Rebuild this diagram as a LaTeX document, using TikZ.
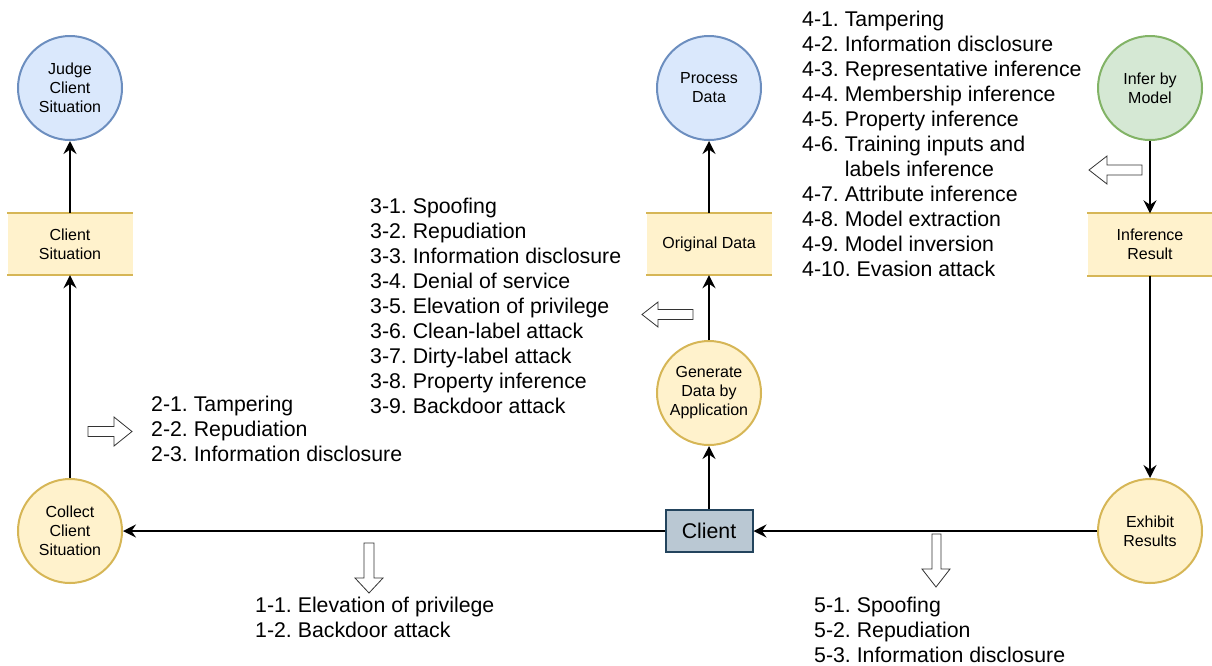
\documentclass[tikz,border=0pt]{standalone}
\usepackage{fontspec}
\setmainfont{Liberation Sans}
\usetikzlibrary{arrows.meta}
\frenchspacing
\definecolor{bluef}{HTML}{DAE8FC}
\definecolor{blues}{HTML}{6C8EBF}
\definecolor{yelf}{HTML}{FFF2CC}
\definecolor{yels}{HTML}{D6B656}
\definecolor{grnf}{HTML}{D5E8D4}
\definecolor{grns}{HTML}{82B366}
\definecolor{clif}{HTML}{BAC8D3}
\definecolor{clis}{HTML}{23445D}
\begin{document}
\begin{tikzpicture}[x=1pt,y=-1pt,
  proc/.style={circle, line width=2pt, minimum size=104pt, inner sep=0pt, align=center, font=\fontsize{16}{19}\selectfont},
  blueproc/.style={proc, fill=bluef, draw=blues},
  yelproc/.style={proc, fill=yelf, draw=yels},
  grnproc/.style={proc, fill=grnf, draw=grns},
  store/.style={rectangle, fill=yelf, minimum width=125pt, minimum height=62pt, inner sep=0pt, align=center, font=\fontsize{16}{19}\selectfont},
  storeline/.style={draw=yels, line width=2pt},
  clientbox/.style={rectangle, fill=clif, draw=clis, line width=2pt, minimum width=87pt, minimum height=42pt, inner sep=0pt, font=\fontsize{21.3}{25}\selectfont},
  flow/.style={line width=2pt, -{Stealth[length=13pt, width=13pt, inset=4.5pt]}},
  threatlist/.style={inner sep=0pt, anchor=north west, align=left, font=\fontsize{21.3}{25}\selectfont},
  blockarrow/.style={draw=black!80, line width=0.8pt, fill=white, line join=miter}
]
\useasboundingbox (0,0) rectangle (1212,665);

% processes
\node[blueproc] (judge) at (70,88) {Judge\\Client\\Situation};
\node[yelproc] (collect) at (70,531) {Collect\\Client\\Situation};
\node[blueproc] (proc) at (709,88) {Process\\Data};
\node[yelproc] (gen) at (709,393) {Generate\\Data by\\Application};
\node[grnproc] (infer) at (1150,88) {Infer by\\Model};
\node[yelproc] (exhibit) at (1150,531) {Exhibit\\Results};

% data stores
\node[store] (cs) at (70,244) {Client\\Situation};
\node[store] (od) at (709,244) {Original Data};
\node[store] (ir) at (1150,244.5) {Inference\\Result};
\foreach \s in {cs,od,ir}{
  \draw[storeline] (\s.north west) -- (\s.north east);
  \draw[storeline] (\s.south west) -- (\s.south east);
}

% client
\node[clientbox] (client) at (709,531) {Client};

% flows
\draw[flow] (collect.north) -- (cs.south);
\draw[flow] (cs.north) -- (judge.south);
\draw[flow] (client.west) -- (collect.east);
\draw[flow] (client.north) -- (gen.south);
\draw[flow] (gen.north) -- (od.south);
\draw[flow] (od.north) -- (proc.south);
\draw[flow] (infer.south) -- (ir.north);
\draw[flow] (ir.south) -- (exhibit.north);
\draw[flow] (exhibit.west) -- (client.east);

% block arrows
\draw[blockarrow] (364,543) -- (374,543) -- (374,578) -- (383,578) -- (369,593) -- (355,578) -- (364,578) -- cycle;
\draw[blockarrow] (88,426.5) -- (114,426.5) -- (114,417) -- (132,431.5) -- (114,446) -- (114,436.5) -- (88,436.5) -- cycle;
\draw[blockarrow] (693,309.5) -- (658,309.5) -- (658,302) -- (642,314.5) -- (658,327) -- (658,319.5) -- (693,319.5) -- cycle;
\draw[blockarrow] (1142,165) -- (1107,165) -- (1107,156) -- (1089,170) -- (1107,184) -- (1107,175) -- (1142,175) -- cycle;
\draw[blockarrow] (932,534) -- (941,534) -- (941,569) -- (950,569) -- (936,587) -- (922,569) -- (932,569) -- cycle;

% threat lists
\node[threatlist] (t1) at (255,597) {1-1. Elevation of privilege\\1-2. Backdoor attack};
\node[threatlist] (t2) at (151,396) {2-1. Tampering\\2-2. Repudiation\\2-3. Information disclosure};
\node[threatlist] (t3) at (370,198) {3-1. Spoofing\\3-2. Repudiation\\3-3. Information disclosure\\3-4. Denial of service\\3-5. Elevation of privilege\\3-6. Clean-label attack\\3-7. Dirty-label attack\\3-8. Property inference\\3-9. Backdoor attack};
\node[threatlist] (t4) at (802,11) {4-1. Tampering\\4-2. Information disclosure\\4-3. Representative inference\\4-4. Membership inference\\4-5. Property inference\\4-6. Training inputs and\\\hphantom{4-6. }labels inference\\4-7. Attribute inference\\4-8. Model extraction\\4-9. Model inversion\\4-10. Evasion attack};
\node[threatlist] (t5) at (814,597) {5-1. Spoofing\\5-2. Repudiation\\5-3. Information disclosure};
\end{tikzpicture}
\end{document}
